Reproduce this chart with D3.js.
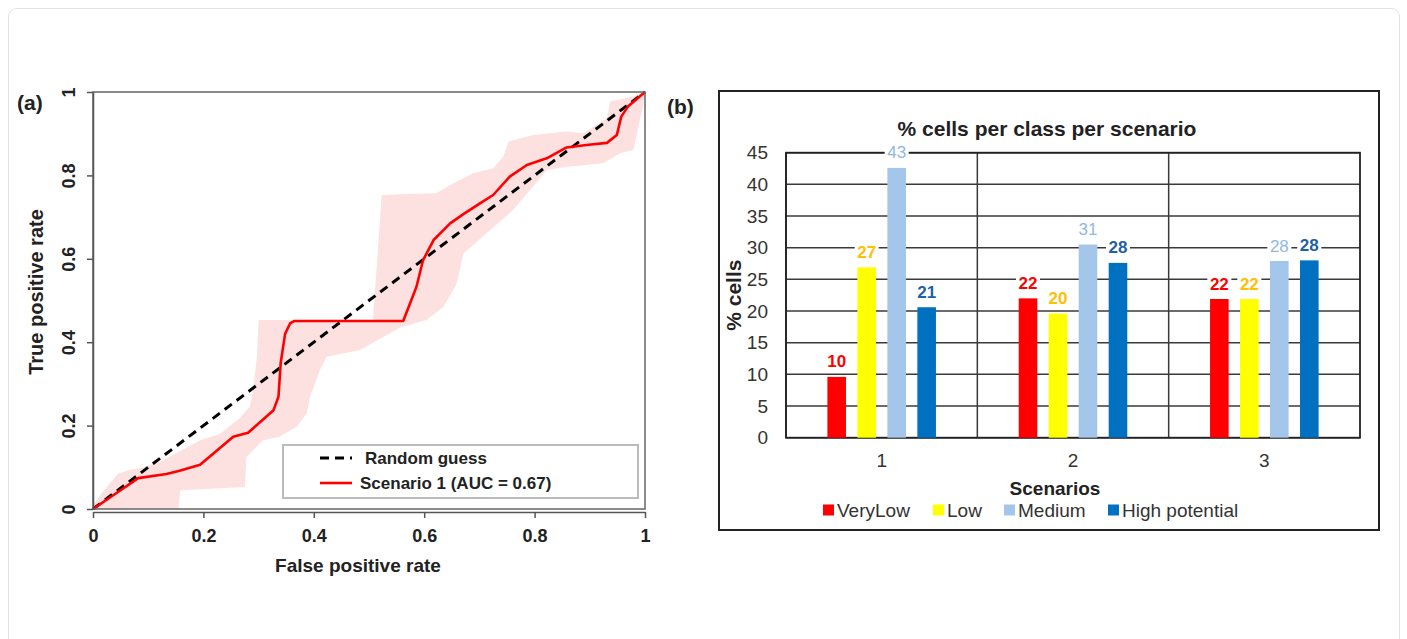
<!DOCTYPE html>
<html>
<head>
<meta charset="utf-8">
<script src="https://cdn.jsdelivr.net/npm/d3@7"></script>
<style>
  body { margin: 0; background: #fff; }
  svg { font-family: "Liberation Sans", Arial, sans-serif; }
</style>
</head>
<body>
<svg id="fig" width="1407" height="639"></svg>
<script>
// ---- panel (a): ROC curve ----
const rocFpr = [0, 0.04, 0.082, 0.133, 0.157, 0.194, 0.254, 0.281, 0.327, 0.336, 0.34, 0.348, 0.357, 0.365, 0.562, 0.586, 0.598, 0.617, 0.647, 0.671, 0.701, 0.725, 0.755, 0.786, 0.822, 0.858, 0.894, 0.931, 0.949, 0.957, 0.969, 1];
const rocTpr = [0, 0.036, 0.074, 0.084, 0.092, 0.106, 0.173, 0.183, 0.237, 0.269, 0.35, 0.42, 0.445, 0.451, 0.451, 0.533, 0.597, 0.645, 0.685, 0.707, 0.733, 0.753, 0.797, 0.825, 0.841, 0.867, 0.873, 0.878, 0.897, 0.941, 0.965, 1];

const bandUpper = [[0, 0.01], [0.02, 0.045], [0.046, 0.085], [0.067, 0.094], [0.085, 0.098], [0.12, 0.112], [0.16, 0.14], [0.194, 0.165], [0.23, 0.18], [0.266, 0.218], [0.284, 0.245], [0.29, 0.285], [0.297, 0.365], [0.3, 0.453], [0.507, 0.453], [0.515, 0.6], [0.523, 0.753], [0.58, 0.756], [0.622, 0.757], [0.653, 0.781], [0.689, 0.805], [0.725, 0.817], [0.743, 0.845], [0.753, 0.881], [0.797, 0.897], [0.858, 0.905], [0.888, 0.901], [0.931, 0.937], [0.937, 0.977], [0.979, 0.989], [1, 1]];
const bandLower = [[1, 0.99], [0.996, 0.965], [0.979, 0.861], [0.955, 0.853], [0.924, 0.829], [0.858, 0.821], [0.822, 0.813], [0.797, 0.773], [0.761, 0.717], [0.713, 0.661], [0.671, 0.613], [0.659, 0.541], [0.635, 0.485], [0.604, 0.453], [0.556, 0.435], [0.484, 0.381], [0.423, 0.365], [0.411, 0.333], [0.393, 0.269], [0.387, 0.229], [0.369, 0.197], [0.337, 0.173], [0.308, 0.165], [0.278, 0.125], [0.275, 0.053], [0.158, 0.045], [0.155, 0], [0, 0]];

const rocTicks = [0, 0.2, 0.4, 0.6, 0.8, 1];

// ---- panel (b): bars ----
const scenarios = ['1', '2', '3'];
const classes = ['VeryLow', 'Low', 'Medium', 'High potential'];
const veryLow = [9.6, 22.0, 21.9];
const low = [26.9, 19.6, 21.9];
const medium = [42.6, 30.5, 27.9];
const high = [20.6, 27.6, 28.0];
const pctTicks = [0, 5, 10, 15, 20, 25, 30, 35, 40, 45];

const classColor = {'VeryLow': '#ff0000', 'Low': '#ffff00', 'Medium': '#a3c6ea', 'High potential': '#0070c0'};
const labelColor = {'VeryLow': '#ff0000', 'Low': '#ffc000', 'Medium': '#8fb8e3', 'High potential': '#1f5fa8'};
const labelWeight = {'VeryLow': 'bold', 'Low': 'bold', 'Medium': 'normal', 'High potential': 'bold'};

const svg = d3.select('#fig');

// card outline
svg.append('rect')
    .attr('x', 8.5).attr('y', 8.5)
    .attr('width', 1391).attr('height', 660)
    .attr('rx', 8)
    .attr('fill', 'none')
    .attr('stroke', '#e2e2e2');

// ================= (a) =================
const ax = d3.scaleLinear().domain([0, 1]).range([93, 645]);
const ay = d3.scaleLinear().domain([0, 1]).range([509, 92]);
const a = svg.append('g');

// confidence band
const band = bandUpper.concat(bandLower);
a.append('path')
    .attr('d', d3.line().x(d => ax(d[0])).y(d => ay(d[1]))(band) + 'Z')
    .attr('fill', '#fde0e0')
    .attr('stroke', 'none');

// random guess
a.append('line')
    .attr('x1', ax(0)).attr('y1', ay(0))
    .attr('x2', ax(1)).attr('y2', ay(1))
    .attr('stroke', '#000')
    .attr('stroke-width', 3)
    .attr('stroke-dasharray', '9,6');

// roc curve
const rocPts = rocFpr.map((f, i) => [f, rocTpr[i]]);
a.append('path')
    .attr('d', d3.line().x(d => ax(d[0])).y(d => ay(d[1]))(rocPts))
    .attr('fill', 'none')
    .attr('stroke', '#ff0000')
    .attr('stroke-width', 2.6)
    .attr('stroke-linejoin', 'round');

// box
a.append('rect')
    .attr('x', ax(0)).attr('y', ay(1))
    .attr('width', ax(1) - ax(0)).attr('height', ay(0) - ay(1))
    .attr('fill', 'none')
    .attr('stroke', '#666')
    .attr('stroke-width', 1.5);

const xAxisA = a.append('g')
    .attr('transform', 'translate(0,512)')
    .call(d3.axisBottom(ax).tickValues(rocTicks).tickFormat(d3.format('')).tickSize(6).tickSizeOuter(0).tickPadding(11));
xAxisA.select('.domain').attr('stroke', '#555').attr('stroke-width', 1.5);
xAxisA.selectAll('.tick line').attr('stroke', '#555').attr('stroke-width', 1.5);
xAxisA.selectAll('text').attr('font-size', 18).attr('font-weight', 'bold').attr('fill', '#222');

const yAxisA = a.append('g')
    .attr('transform', 'translate(93,0)')
    .call(d3.axisLeft(ay).tickValues(rocTicks).tickFormat(d3.format('')).tickSize(6).tickSizeOuter(0));
yAxisA.select('.domain').attr('stroke', '#555').attr('stroke-width', 1.5);
yAxisA.selectAll('.tick line').attr('stroke', '#555').attr('stroke-width', 1.5);
yAxisA.selectAll('text')
    .attr('x', 0).attr('dy', 0)
    .attr('transform', 'translate(-24,0) rotate(-90)')
    .attr('text-anchor', 'middle')
    .attr('dominant-baseline', 'central')
    .attr('font-size', 18).attr('font-weight', 'bold').attr('fill', '#222');

a.append('text')
    .attr('x', 358).attr('y', 572)
    .attr('text-anchor', 'middle')
    .attr('font-size', 19).attr('font-weight', 'bold').attr('fill', '#222')
    .text('False positive rate');

a.append('text')
    .attr('transform', 'translate(43,292) rotate(-90)')
    .attr('text-anchor', 'middle')
    .attr('font-size', 20).attr('font-weight', 'bold').attr('fill', '#222')
    .text('True positive rate');

a.append('text')
    .attr('x', 17).attr('y', 110)
    .attr('font-size', 21).attr('font-weight', 'bold').attr('fill', '#222')
    .text('(a)');

// legend
const lg = a.append('g');
lg.append('rect')
    .attr('x', 283).attr('y', 445).attr('width', 355).attr('height', 53)
    .attr('fill', '#fff').attr('stroke', '#bbb').attr('stroke-width', 2);
lg.append('line')
    .attr('x1', 320).attr('x2', 352).attr('y1', 458).attr('y2', 458)
    .attr('stroke', '#000').attr('stroke-width', 3).attr('stroke-dasharray', '9,6');
lg.append('text')
    .attr('x', 365).attr('y', 464)
    .attr('font-size', 17).attr('font-weight', 'bold').attr('fill', '#222')
    .text('Random guess');
lg.append('line')
    .attr('x1', 320).attr('x2', 352).attr('y1', 483).attr('y2', 483)
    .attr('stroke', '#ff0000').attr('stroke-width', 2.6);
lg.append('text')
    .attr('x', 360).attr('y', 489)
    .attr('font-size', 17).attr('font-weight', 'bold').attr('fill', '#222')
    .text('Scenario 1 (AUC = 0.67)');

// ================= (b) =================
const b = svg.append('g');
b.append('rect')
    .attr('x', 719).attr('y', 91).attr('width', 660).attr('height', 439)
    .attr('fill', '#fff').attr('stroke', '#222').attr('stroke-width', 2);

b.append('text')
    .attr('x', 667).attr('y', 114)
    .attr('font-size', 21).attr('font-weight', 'bold').attr('fill', '#222')
    .text('(b)');

const bx0 = d3.scaleBand().domain(scenarios).range([786, 1360]);
const bx1 = d3.scaleBand().domain(classes).range([0, bx0.bandwidth()]).paddingInner(0.38).paddingOuter(1.38);
const by = d3.scaleLinear().domain([0, 45]).range([437.7, 152.7]);

// grid
b.selectAll('.hgrid').data(pctTicks).enter().append('line')
    .attr('class', 'hgrid')
    .attr('x1', 786).attr('x2', 1360)
    .attr('y1', d => by(d)).attr('y2', d => by(d))
    .attr('stroke', '#3a3a3a').attr('stroke-width', 1.5);
b.selectAll('.vgrid').data(scenarios).enter().append('line')
    .attr('class', 'vgrid')
    .attr('x1', d => bx0(d)).attr('x2', d => bx0(d))
    .attr('y1', by(45)).attr('y2', by(0))
    .attr('stroke', '#3a3a3a').attr('stroke-width', 1.5);
b.append('rect')
    .attr('x', 786).attr('y', by(45)).attr('width', 574).attr('height', by(0) - by(45))
    .attr('fill', 'none').attr('stroke', '#222').attr('stroke-width', 1.8);

const series = {'VeryLow': veryLow, 'Low': low, 'Medium': medium, 'High potential': high};
const barData = [];
scenarios.forEach((s, i) => classes.forEach(c => barData.push({s: s, c: c, v: series[c][i]})));

b.selectAll('.bar').data(barData).enter().append('rect')
    .attr('class', 'bar')
    .attr('x', d => bx0(d.s) + bx1(d.c))
    .attr('y', d => by(d.v))
    .attr('width', bx1.bandwidth())
    .attr('height', d => by(0) - by(d.v))
    .attr('fill', d => classColor[d.c]);

// value labels with white backing
const lab = b.selectAll('.lab').data(barData).enter().append('g').attr('class', 'lab')
    .attr('transform', d => `translate(${bx0(d.s) + bx1(d.c) + bx1.bandwidth() / 2},${by(d.v) - 15})`);
lab.append('rect')
    .attr('x', -12).attr('y', -9).attr('width', 24).attr('height', 18)
    .attr('fill', '#fff');
lab.append('text')
    .attr('text-anchor', 'middle')
    .attr('dominant-baseline', 'central')
    .attr('font-size', 17)
    .attr('font-weight', d => labelWeight[d.c])
    .attr('fill', d => labelColor[d.c])
    .text(d => d3.format('.0f')(d.v));

// axes
const yAxisB = b.append('g')
    .attr('transform', 'translate(786,0)')
    .call(d3.axisLeft(by).tickValues(pctTicks).tickSize(0).tickPadding(18));
yAxisB.select('.domain').remove();
yAxisB.selectAll('text').attr('font-size', 19).attr('fill', '#333');

const xAxisB = b.append('g')
    .attr('transform', `translate(0,${by(0)})`)
    .call(d3.axisBottom(bx0).tickSize(0).tickPadding(16));
xAxisB.select('.domain').remove();
xAxisB.selectAll('text').attr('font-size', 19).attr('fill', '#333');

b.append('text')
    .attr('x', 1047).attr('y', 136)
    .attr('text-anchor', 'middle')
    .attr('font-size', 21).attr('font-weight', 'bold').attr('fill', '#222')
    .text('% cells per class per scenario');

b.append('text')
    .attr('transform', `translate(741,${(by(0) + by(45)) / 2}) rotate(-90)`)
    .attr('text-anchor', 'middle')
    .attr('font-size', 21).attr('font-weight', 'bold').attr('fill', '#222')
    .text('% cells');

b.append('text')
    .attr('x', 1055).attr('y', 495)
    .attr('text-anchor', 'middle')
    .attr('font-size', 19).attr('font-weight', 'bold').attr('fill', '#222')
    .text('Scenarios');

const legendX = [823, 933, 1004, 1108];
const leg = b.selectAll('.leg').data(classes).enter().append('g').attr('class', 'leg')
    .attr('transform', (d, i) => `translate(${legendX[i]},510)`);
leg.append('rect')
    .attr('x', 0).attr('y', -5.5).attr('width', 11).attr('height', 11)
    .attr('fill', d => classColor[d]);
leg.append('text')
    .attr('x', 14).attr('dominant-baseline', 'central')
    .attr('font-size', 19).attr('fill', '#333')
    .text(d => d);
</script>
</body>
</html>
